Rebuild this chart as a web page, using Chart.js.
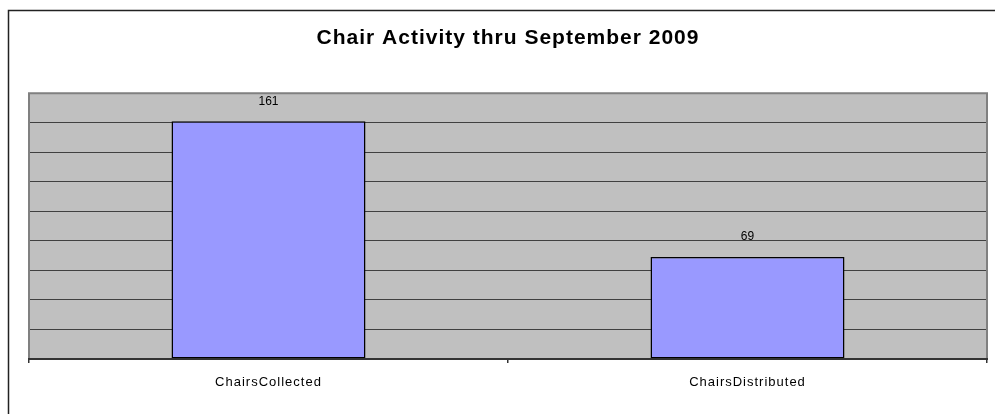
<!DOCTYPE html>
<html>
<head>
<meta charset="utf-8">
<script src="https://cdn.jsdelivr.net/npm/chart.js@4.4.1/dist/chart.umd.min.js"></script>
<style>
    html, body { margin: 0; padding: 0; background: #fff; }
    #wrap { width: 995px; height: 414px; }
</style>
</head>
<body>
<div id="wrap"><canvas id="barChart"></canvas></div>
<script>
var categories = ['ChairsCollected', 'ChairsDistributed'];
var chairCounts = [161, 69];
var yMax = 180;
var yStep = 20;

// outer frame, grey plot area and its borders
var framePlugin = {
    id: 'frame',
    beforeDraw: function(chart) {
        var ctx = chart.ctx;
        var a = chart.chartArea;
        ctx.save();
        ctx.strokeStyle = '#222';
        ctx.lineWidth = 1.5;
        ctx.beginPath();
        ctx.moveTo(8.5, 420);
        ctx.lineTo(8.5, 10.5);
        ctx.lineTo(1000, 10.5);
        ctx.stroke();
        ctx.fillStyle = '#C0C0C0';
        ctx.fillRect(a.left, a.top, a.right - a.left, a.bottom - a.top);
        ctx.restore();
        ctx.letterSpacing = '1px';
    },
    afterDatasetsDraw: function(chart) {
        var ctx = chart.ctx;
        var a = chart.chartArea;
        ctx.save();
        ctx.strokeStyle = '#808080';
        ctx.lineWidth = 2;
        ctx.beginPath();
        ctx.moveTo(a.left, a.bottom);
        ctx.lineTo(a.left, a.top);
        ctx.lineTo(a.right, a.top);
        ctx.lineTo(a.right, a.bottom);
        ctx.stroke();
        ctx.strokeStyle = '#333';
        ctx.beginPath();
        ctx.moveTo(a.left - 1, a.bottom);
        ctx.lineTo(a.right + 1, a.bottom);
        ctx.stroke();

        // value labels above bars
        ctx.letterSpacing = '0px';
        ctx.fillStyle = '#000';
        ctx.font = '12px "Liberation Sans", Arial, sans-serif';
        ctx.textAlign = 'center';
        ctx.textBaseline = 'middle';
        chart.getDatasetMeta(0).data.forEach(function(bar, i) {
            ctx.fillText(chairCounts[i], bar.x, bar.y - 20);
        });
        ctx.restore();
    }
};

document.addEventListener('DOMContentLoaded', function() {
    var ctx = document.getElementById('barChart').getContext('2d');
    new Chart(ctx, {
        type: 'bar',
        data: {
            labels: categories,
            datasets: [{
                data: chairCounts,
                backgroundColor: '#9999FF',
                borderColor: '#000',
                borderWidth: 1.5,
                borderSkipped: false,
                categoryPercentage: 1,
                barPercentage: 0.405
            }]
        },
        options: {
            responsive: true,
            maintainAspectRatio: false,
            animation: false,
            devicePixelRatio: 1,
            layout: {
                padding: { left: 29, right: 8, top: 0, bottom: 25 }
            },
            scales: {
                x: {
                    afterFit: function(axis) { axis.height = 30; },
                    border: { display: false },
                    grid: {
                        offset: true,
                        drawOnChartArea: false,
                        drawTicks: true,
                        tickLength: 4,
                        tickColor: '#333',
                        lineWidth: 1.5
                    },
                    ticks: {
                        color: '#000',
                        padding: 12,
                        font: { family: '"Liberation Sans", Arial, sans-serif', size: 13 }
                    }
                },
                y: {
                    min: 0,
                    max: yMax,
                    afterFit: function(axis) { axis.width = 0; },
                    border: { display: false },
                    grid: {
                        color: '#404040',
                        lineWidth: 1,
                        drawTicks: false
                    },
                    ticks: {
                        display: false,
                        stepSize: yStep
                    }
                }
            },
            plugins: {
                legend: { display: false },
                tooltip: { enabled: false },
                title: {
                    display: true,
                    text: 'Chair Activity thru September 2009',
                    color: '#000',
                    font: { family: '"Liberation Sans", Arial, sans-serif', size: 21, weight: 'bold', lineHeight: 1.2 },
                    padding: { top: 26, bottom: 42 }
                }
            }
        },
        plugins: [framePlugin]
    });
});
</script>
</body>
</html>
